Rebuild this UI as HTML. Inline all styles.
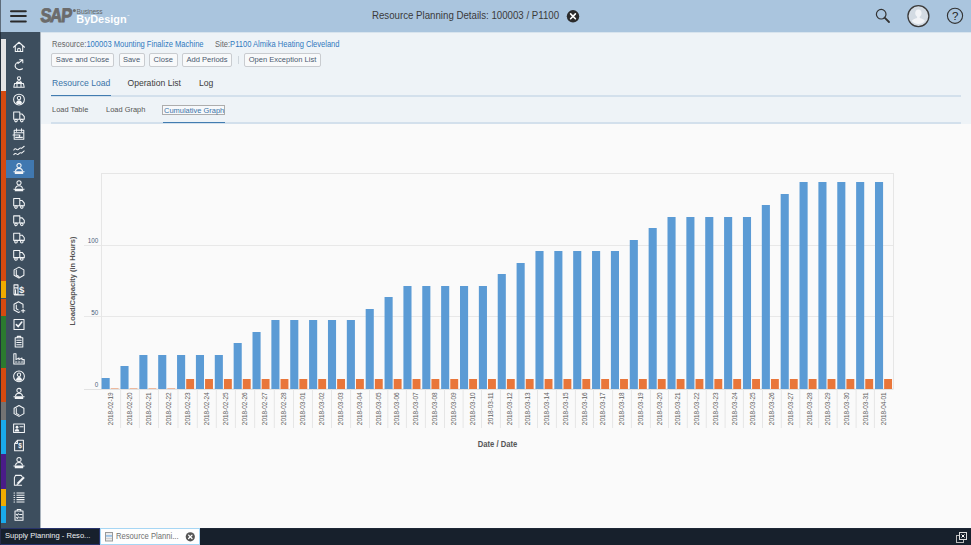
<!DOCTYPE html>
<html><head><meta charset="utf-8">
<style>
*{margin:0;padding:0;box-sizing:border-box}
html,body{width:971px;height:545px;overflow:hidden;background:#fafafa;font-family:"Liberation Sans",sans-serif;position:relative}
.a{position:absolute}
.hdr{left:0;top:0;width:971px;height:32px;background:#aac5de}
.side{left:0;top:32px;width:40px;height:496px;background:#3d4e5e}
.edge{left:0;top:0;width:1px;height:545px;background:#3b4856}
.top{left:40px;top:32px;width:931px;height:92px;background:#eef3f7;border-left:1px solid #a9b3bd}
.main{left:40px;top:124px;width:931px;height:404px;background:#fafafa;border-left:1px solid #a9b3bd}
.task{left:0;top:528px;width:971px;height:17px;background:#17202c;border-top:1px solid #1d2737}
.t{white-space:nowrap;line-height:1}
.btn{position:absolute;top:53px;height:14px;border:1px solid #c9ccd0;border-radius:2px;background:#f8f9fa;color:#4a5a70;font-size:7.55px;line-height:12.7px;text-align:center;white-space:nowrap}
.xl{font-size:7.4px;fill:#606060}
.yl{font-size:8px;fill:#4f627b}
.yt{font-size:8.3px;font-weight:bold;fill:#555}
</style></head><body>
<div class="a hdr"></div>
<div class="a side"></div>
<div class="a top"></div><div class="a" style="left:41px;top:32px;width:930px;height:1px;background:#d8e4ee"></div>
<div class="a main"></div>
<div class="a task"></div>
<div class="a" style="left:0;top:0;width:1px;height:32px;background:#5d6c7b"></div><div class="a" style="left:0;top:32px;width:1px;height:496px;background:#24303c"></div>
<div style="position:absolute;left:1px;top:39px;width:5px;height:52.0px;background:#e4e4e4"></div><div style="position:absolute;left:1px;top:91px;width:5px;height:190.2px;background:#d64a10"></div><div style="position:absolute;left:1px;top:281.2px;width:5px;height:17.3px;background:#f0ab00"></div><div style="position:absolute;left:1px;top:298.5px;width:5px;height:17.3px;background:#d64a10"></div><div style="position:absolute;left:1px;top:315.8px;width:5px;height:51.9px;background:#2b7a2f"></div><div style="position:absolute;left:1px;top:367.7px;width:5px;height:34.6px;background:#d64a10"></div><div style="position:absolute;left:1px;top:402.3px;width:5px;height:17.3px;background:#737373"></div><div style="position:absolute;left:1px;top:419.6px;width:5px;height:34.6px;background:#19aaec"></div><div style="position:absolute;left:1px;top:454.2px;width:5px;height:34.6px;background:#4a1c88"></div><div style="position:absolute;left:1px;top:488.8px;width:5px;height:17.3px;background:#f0ab00"></div><div style="position:absolute;left:1px;top:506.1px;width:5px;height:17.3px;background:#19aaec"></div>
<div class="a" style="left:6px;top:160px;width:28px;height:17.5px;background:#4078b0"></div>
<!-- hamburger -->
<svg class="a" style="left:0;top:0" width="40" height="32"><g stroke="#2a2a2a" stroke-width="2" stroke-linecap="round"><line x1="11" y1="11.2" x2="25.8" y2="11.2"/><line x1="11" y1="16" x2="25.8" y2="16"/><line x1="11" y1="21.5" x2="25.8" y2="21.5"/></g></svg>
<!-- logo -->
<svg class="a" style="left:0;top:0" width="140" height="32">
<text transform="translate(39.9,22.3) scale(0.84,1) skewX(-6)" font-family="Liberation Sans" font-weight="bold" font-size="19.6" fill="#6b6b6b" stroke="#6b6b6b" stroke-width="0.9" letter-spacing="-1.2">SAP</text>
<circle cx="74.4" cy="10.4" r="1.5" fill="#6b6b6b"/>
<text transform="translate(76.6,13.9) scale(0.92,1)" font-family="Liberation Sans" font-size="7.3" fill="#666" letter-spacing="-0.2">Business</text>
<text transform="translate(76.3,22.7) scale(1,1)" font-family="Liberation Sans" font-weight="bold" font-size="10.9" fill="#ffffff" letter-spacing="0">ByDesign</text>
<text x="127" y="17" font-family="Liberation Sans" font-size="2.5" fill="#fff">&#8482;</text>
</svg>
<!-- title -->
<div class="a t" style="left:372.4px;top:11.3px;font-size:10.2px;color:#3a3a3a;transform:scaleX(0.95);transform-origin:0 0">Resource Planning Details: 100003 / P1100</div>
<svg class="a" style="left:565px;top:9px" width="16" height="16"><circle cx="8" cy="7.3" r="6.2" fill="#2b2b2b"/><g stroke="#fff" stroke-width="1.6" stroke-linecap="round"><line x1="5.6" y1="4.9" x2="10.4" y2="9.7"/><line x1="10.4" y1="4.9" x2="5.6" y2="9.7"/></g></svg>
<!-- right icons -->
<svg class="a" style="left:860px;top:0" width="111" height="32">
<circle cx="21.2" cy="14.2" r="4.8" fill="none" stroke="#333" stroke-width="1.2"/>
<line x1="24.6" y1="17.6" x2="29" y2="22" stroke="#333" stroke-width="1.8" stroke-linecap="round"/>
<circle cx="58.4" cy="16.1" r="10.5" fill="#d3dbe3" stroke="#3a3a3a" stroke-width="1.3"/>
<path d="M58.4 9.5c-2 0-3.2 1.6-3.2 3.6 0 1.6.8 3 1.9 3.7v1.3c-2.4.5-4.6 1.6-5.3 2.8 1.7 1.9 4 3 6.6 3s4.9-1.1 6.6-3c-.7-1.2-2.9-2.3-5.3-2.8v-1.3c1.1-.7 1.9-2.1 1.9-3.7 0-2-1.2-3.6-3.2-3.6z" fill="#f2f4f7"/>
<circle cx="95" cy="15.8" r="7.6" fill="none" stroke="#333" stroke-width="1.1"/>
<text x="95.1" y="19.9" text-anchor="middle" font-size="11.5" fill="#222" font-family="Liberation Sans">?</text>
</svg>
<!-- resource row -->
<div class="a t" style="left:52px;top:39.9px;font-size:8.3px;color:#666;transform:scaleX(0.91);transform-origin:0 0">Resource:<span style="color:#3079be">100003 Mounting Finalize Machine</span></div>
<div class="a t" style="left:214.7px;top:39.9px;font-size:8.3px;color:#666;transform:scaleX(0.91);transform-origin:0 0">Site:<span style="color:#3079be">P1100 Almika Heating Cleveland</span></div>
<div class="btn" style="left:51px;width:63px">Save and Close</div>
<div class="btn" style="left:118.5px;width:26px">Save</div>
<div class="btn" style="left:149px;width:28.5px">Close</div>
<div class="btn" style="left:182px;width:50px">Add Periods</div>
<div class="a" style="left:238px;top:55.5px;width:1px;height:8.5px;background:#cfd6dc"></div>
<div class="btn" style="left:244px;width:77px">Open Exception List</div>
<!-- tabs -->
<div class="a t" style="left:52px;top:79px;font-size:8.6px;color:#3a73a8">Resource Load</div>
<div class="a t" style="left:127.5px;top:79px;font-size:8.6px;color:#3d3d3d">Operation List</div>
<div class="a t" style="left:199px;top:79px;font-size:8.6px;color:#3d3d3d">Log</div>
<div class="a" style="left:51px;top:95.3px;width:910px;height:1.3px;background:#d3e0ec"></div>
<div class="a" style="left:51px;top:94.6px;width:59.5px;height:1.6px;background:#427cb0"></div>
<div class="a t" style="left:51.7px;top:106.2px;font-size:8.1px;color:#555;transform:scaleX(0.92);transform-origin:0 0">Load Table</div>
<div class="a t" style="left:106px;top:106.2px;font-size:8.1px;color:#555;transform:scaleX(0.92);transform-origin:0 0">Load Graph</div>
<div class="a" style="left:162px;top:105px;width:63px;height:10px;border:1px solid #adadad;background:#f7f9fb"></div>
<div class="a t" style="left:164px;top:106.7px;font-size:7.47px;color:#3a73a8">Cumulative Graph</div>
<div class="a" style="left:51px;top:122.4px;width:910px;height:1.4px;background:#d3e0ec"></div>
<div class="a" style="left:163px;top:121.8px;width:62px;height:1.4px;background:#427cb0"></div>
<!-- chart -->
<svg class="a" style="left:0;top:0;font-family:'Liberation Sans',sans-serif" width="971" height="545">
<line x1="84" y1="316.50" x2="893" y2="316.50" stroke="#e8e8e8" stroke-width="1"/>
<line x1="84" y1="245.50" x2="893" y2="245.50" stroke="#e8e8e8" stroke-width="1"/>
<rect x="101.5" y="173.5" width="792" height="215.5" fill="none" stroke="#e6e6e6" stroke-width="1"/>
<line x1="84" y1="389.5" x2="893" y2="389.5" stroke="#e2e2e2" stroke-width="1"/>
<line x1="120.60" y1="389" x2="120.60" y2="428" stroke="#e6e6e6" stroke-width="1"/>
<line x1="139.40" y1="389" x2="139.40" y2="428" stroke="#e6e6e6" stroke-width="1"/>
<line x1="158.50" y1="389" x2="158.50" y2="428" stroke="#e6e6e6" stroke-width="1"/>
<line x1="178.00" y1="389" x2="178.00" y2="428" stroke="#e6e6e6" stroke-width="1"/>
<line x1="197.30" y1="389" x2="197.30" y2="428" stroke="#e6e6e6" stroke-width="1"/>
<line x1="216.30" y1="389" x2="216.30" y2="428" stroke="#e6e6e6" stroke-width="1"/>
<line x1="235.40" y1="389" x2="235.40" y2="428" stroke="#e6e6e6" stroke-width="1"/>
<line x1="254.70" y1="389" x2="254.70" y2="428" stroke="#e6e6e6" stroke-width="1"/>
<line x1="274.30" y1="389" x2="274.30" y2="428" stroke="#e6e6e6" stroke-width="1"/>
<line x1="293.50" y1="389" x2="293.50" y2="428" stroke="#e6e6e6" stroke-width="1"/>
<line x1="312.45" y1="389" x2="312.45" y2="428" stroke="#e6e6e6" stroke-width="1"/>
<line x1="331.50" y1="389" x2="331.50" y2="428" stroke="#e6e6e6" stroke-width="1"/>
<line x1="350.60" y1="389" x2="350.60" y2="428" stroke="#e6e6e6" stroke-width="1"/>
<line x1="369.50" y1="389" x2="369.50" y2="428" stroke="#e6e6e6" stroke-width="1"/>
<line x1="387.85" y1="389" x2="387.85" y2="428" stroke="#e6e6e6" stroke-width="1"/>
<line x1="406.40" y1="389" x2="406.40" y2="428" stroke="#e6e6e6" stroke-width="1"/>
<line x1="425.40" y1="389" x2="425.40" y2="428" stroke="#e6e6e6" stroke-width="1"/>
<line x1="444.50" y1="389" x2="444.50" y2="428" stroke="#e6e6e6" stroke-width="1"/>
<line x1="463.10" y1="389" x2="463.10" y2="428" stroke="#e6e6e6" stroke-width="1"/>
<line x1="481.50" y1="389" x2="481.50" y2="428" stroke="#e6e6e6" stroke-width="1"/>
<line x1="500.40" y1="389" x2="500.40" y2="428" stroke="#e6e6e6" stroke-width="1"/>
<line x1="518.90" y1="389" x2="518.90" y2="428" stroke="#e6e6e6" stroke-width="1"/>
<line x1="537.50" y1="389" x2="537.50" y2="428" stroke="#e6e6e6" stroke-width="1"/>
<line x1="556.40" y1="389" x2="556.40" y2="428" stroke="#e6e6e6" stroke-width="1"/>
<line x1="575.40" y1="389" x2="575.40" y2="428" stroke="#e6e6e6" stroke-width="1"/>
<line x1="593.50" y1="389" x2="593.50" y2="428" stroke="#e6e6e6" stroke-width="1"/>
<line x1="612.60" y1="389" x2="612.60" y2="428" stroke="#e6e6e6" stroke-width="1"/>
<line x1="631.40" y1="389" x2="631.40" y2="428" stroke="#e6e6e6" stroke-width="1"/>
<line x1="650.40" y1="389" x2="650.40" y2="428" stroke="#e6e6e6" stroke-width="1"/>
<line x1="668.50" y1="389" x2="668.50" y2="428" stroke="#e6e6e6" stroke-width="1"/>
<line x1="687.30" y1="389" x2="687.30" y2="428" stroke="#e6e6e6" stroke-width="1"/>
<line x1="706.25" y1="389" x2="706.25" y2="428" stroke="#e6e6e6" stroke-width="1"/>
<line x1="725.10" y1="389" x2="725.10" y2="428" stroke="#e6e6e6" stroke-width="1"/>
<line x1="743.40" y1="389" x2="743.40" y2="428" stroke="#e6e6e6" stroke-width="1"/>
<line x1="762.50" y1="389" x2="762.50" y2="428" stroke="#e6e6e6" stroke-width="1"/>
<line x1="781.30" y1="389" x2="781.30" y2="428" stroke="#e6e6e6" stroke-width="1"/>
<line x1="799.80" y1="389" x2="799.80" y2="428" stroke="#e6e6e6" stroke-width="1"/>
<line x1="818.70" y1="389" x2="818.70" y2="428" stroke="#e6e6e6" stroke-width="1"/>
<line x1="837.20" y1="389" x2="837.20" y2="428" stroke="#e6e6e6" stroke-width="1"/>
<line x1="856.10" y1="389" x2="856.10" y2="428" stroke="#e6e6e6" stroke-width="1"/>
<line x1="874.40" y1="389" x2="874.40" y2="428" stroke="#e6e6e6" stroke-width="1"/>
<rect x="101.60" y="378" width="8.1" height="11.00" fill="#5b9bd5"/>
<rect x="110.75" y="388" width="7.8" height="1" fill="#e9763a" opacity="0.45"/>
<rect x="120.46" y="366" width="8.1" height="23.00" fill="#5b9bd5"/>
<rect x="129.61" y="388" width="7.8" height="1" fill="#e9763a" opacity="0.45"/>
<rect x="139.33" y="355" width="8.1" height="34.00" fill="#5b9bd5"/>
<rect x="148.48" y="388" width="7.8" height="1" fill="#e9763a" opacity="0.45"/>
<rect x="158.19" y="355" width="8.1" height="34.00" fill="#5b9bd5"/>
<rect x="167.34" y="388" width="7.8" height="1" fill="#e9763a" opacity="0.45"/>
<rect x="177.05" y="355" width="8.1" height="34.00" fill="#5b9bd5"/>
<rect x="186.20" y="379" width="7.9" height="10.00" fill="#e9763a"/>
<rect x="195.91" y="355" width="8.1" height="34.00" fill="#5b9bd5"/>
<rect x="205.06" y="379" width="7.9" height="10.00" fill="#e9763a"/>
<rect x="214.78" y="355" width="8.1" height="34.00" fill="#5b9bd5"/>
<rect x="223.93" y="379" width="7.9" height="10.00" fill="#e9763a"/>
<rect x="233.64" y="343" width="8.1" height="46.00" fill="#5b9bd5"/>
<rect x="242.79" y="379" width="7.9" height="10.00" fill="#e9763a"/>
<rect x="252.50" y="332" width="8.1" height="57.00" fill="#5b9bd5"/>
<rect x="261.65" y="379" width="7.9" height="10.00" fill="#e9763a"/>
<rect x="271.37" y="320" width="8.1" height="69.00" fill="#5b9bd5"/>
<rect x="280.52" y="379" width="7.9" height="10.00" fill="#e9763a"/>
<rect x="290.23" y="320" width="8.1" height="69.00" fill="#5b9bd5"/>
<rect x="299.38" y="379" width="7.9" height="10.00" fill="#e9763a"/>
<rect x="309.09" y="320" width="8.1" height="69.00" fill="#5b9bd5"/>
<rect x="318.24" y="379" width="7.9" height="10.00" fill="#e9763a"/>
<rect x="327.96" y="320" width="8.1" height="69.00" fill="#5b9bd5"/>
<rect x="337.11" y="379" width="7.9" height="10.00" fill="#e9763a"/>
<rect x="346.82" y="320" width="8.1" height="69.00" fill="#5b9bd5"/>
<rect x="355.97" y="379" width="7.9" height="10.00" fill="#e9763a"/>
<rect x="365.68" y="309" width="8.1" height="80.00" fill="#5b9bd5"/>
<rect x="374.83" y="379" width="7.9" height="10.00" fill="#e9763a"/>
<rect x="384.55" y="297" width="8.1" height="92.00" fill="#5b9bd5"/>
<rect x="393.69" y="379" width="7.9" height="10.00" fill="#e9763a"/>
<rect x="403.41" y="286" width="8.1" height="103.00" fill="#5b9bd5"/>
<rect x="412.56" y="379" width="7.9" height="10.00" fill="#e9763a"/>
<rect x="422.27" y="286" width="8.1" height="103.00" fill="#5b9bd5"/>
<rect x="431.42" y="379" width="7.9" height="10.00" fill="#e9763a"/>
<rect x="441.13" y="286" width="8.1" height="103.00" fill="#5b9bd5"/>
<rect x="450.28" y="379" width="7.9" height="10.00" fill="#e9763a"/>
<rect x="460.00" y="286" width="8.1" height="103.00" fill="#5b9bd5"/>
<rect x="469.15" y="379" width="7.9" height="10.00" fill="#e9763a"/>
<rect x="478.86" y="286" width="8.1" height="103.00" fill="#5b9bd5"/>
<rect x="488.01" y="379" width="7.9" height="10.00" fill="#e9763a"/>
<rect x="497.72" y="274" width="8.1" height="115.00" fill="#5b9bd5"/>
<rect x="506.87" y="379" width="7.9" height="10.00" fill="#e9763a"/>
<rect x="516.59" y="263" width="8.1" height="126.00" fill="#5b9bd5"/>
<rect x="525.74" y="379" width="7.9" height="10.00" fill="#e9763a"/>
<rect x="535.45" y="251" width="8.1" height="138.00" fill="#5b9bd5"/>
<rect x="544.60" y="379" width="7.9" height="10.00" fill="#e9763a"/>
<rect x="554.31" y="251" width="8.1" height="138.00" fill="#5b9bd5"/>
<rect x="563.46" y="379" width="7.9" height="10.00" fill="#e9763a"/>
<rect x="573.18" y="251" width="8.1" height="138.00" fill="#5b9bd5"/>
<rect x="582.33" y="379" width="7.9" height="10.00" fill="#e9763a"/>
<rect x="592.04" y="251" width="8.1" height="138.00" fill="#5b9bd5"/>
<rect x="601.19" y="379" width="7.9" height="10.00" fill="#e9763a"/>
<rect x="610.90" y="251" width="8.1" height="138.00" fill="#5b9bd5"/>
<rect x="620.05" y="379" width="7.9" height="10.00" fill="#e9763a"/>
<rect x="629.76" y="240" width="8.1" height="149.00" fill="#5b9bd5"/>
<rect x="638.91" y="379" width="7.9" height="10.00" fill="#e9763a"/>
<rect x="648.63" y="228" width="8.1" height="161.00" fill="#5b9bd5"/>
<rect x="657.78" y="379" width="7.9" height="10.00" fill="#e9763a"/>
<rect x="667.49" y="217" width="8.1" height="172.00" fill="#5b9bd5"/>
<rect x="676.64" y="379" width="7.9" height="10.00" fill="#e9763a"/>
<rect x="686.35" y="217" width="8.1" height="172.00" fill="#5b9bd5"/>
<rect x="695.50" y="379" width="7.9" height="10.00" fill="#e9763a"/>
<rect x="705.22" y="217" width="8.1" height="172.00" fill="#5b9bd5"/>
<rect x="714.37" y="379" width="7.9" height="10.00" fill="#e9763a"/>
<rect x="724.08" y="217" width="8.1" height="172.00" fill="#5b9bd5"/>
<rect x="733.23" y="379" width="7.9" height="10.00" fill="#e9763a"/>
<rect x="742.94" y="217" width="8.1" height="172.00" fill="#5b9bd5"/>
<rect x="752.09" y="379" width="7.9" height="10.00" fill="#e9763a"/>
<rect x="761.80" y="205" width="8.1" height="184.00" fill="#5b9bd5"/>
<rect x="770.95" y="379" width="7.9" height="10.00" fill="#e9763a"/>
<rect x="780.67" y="194" width="8.1" height="195.00" fill="#5b9bd5"/>
<rect x="789.82" y="379" width="7.9" height="10.00" fill="#e9763a"/>
<rect x="799.53" y="182" width="8.1" height="207.00" fill="#5b9bd5"/>
<rect x="808.68" y="379" width="7.9" height="10.00" fill="#e9763a"/>
<rect x="818.39" y="182" width="8.1" height="207.00" fill="#5b9bd5"/>
<rect x="827.54" y="379" width="7.9" height="10.00" fill="#e9763a"/>
<rect x="837.26" y="182" width="8.1" height="207.00" fill="#5b9bd5"/>
<rect x="846.41" y="379" width="7.9" height="10.00" fill="#e9763a"/>
<rect x="856.12" y="182" width="8.1" height="207.00" fill="#5b9bd5"/>
<rect x="865.27" y="379" width="7.9" height="10.00" fill="#e9763a"/>
<rect x="874.98" y="182" width="8.1" height="207.00" fill="#5b9bd5"/>
<rect x="884.13" y="379" width="7.9" height="10.00" fill="#e9763a"/>
<text transform="translate(113.45,392.3) rotate(-90) scale(0.87,1)" text-anchor="end" class="xl">2018-02-19</text>
<text transform="translate(132.25,392.3) rotate(-90) scale(0.87,1)" text-anchor="end" class="xl">2018-02-20</text>
<text transform="translate(151.20,392.3) rotate(-90) scale(0.87,1)" text-anchor="end" class="xl">2018-02-21</text>
<text transform="translate(170.50,392.3) rotate(-90) scale(0.87,1)" text-anchor="end" class="xl">2018-02-22</text>
<text transform="translate(189.90,392.3) rotate(-90) scale(0.87,1)" text-anchor="end" class="xl">2018-02-23</text>
<text transform="translate(209.05,392.3) rotate(-90) scale(0.87,1)" text-anchor="end" class="xl">2018-02-24</text>
<text transform="translate(228.10,392.3) rotate(-90) scale(0.87,1)" text-anchor="end" class="xl">2018-02-25</text>
<text transform="translate(247.30,392.3) rotate(-90) scale(0.87,1)" text-anchor="end" class="xl">2018-02-26</text>
<text transform="translate(266.75,392.3) rotate(-90) scale(0.87,1)" text-anchor="end" class="xl">2018-02-27</text>
<text transform="translate(286.15,392.3) rotate(-90) scale(0.87,1)" text-anchor="end" class="xl">2018-02-28</text>
<text transform="translate(305.23,392.3) rotate(-90) scale(0.87,1)" text-anchor="end" class="xl">2018-03-01</text>
<text transform="translate(324.23,392.3) rotate(-90) scale(0.87,1)" text-anchor="end" class="xl">2018-03-02</text>
<text transform="translate(343.30,392.3) rotate(-90) scale(0.87,1)" text-anchor="end" class="xl">2018-03-03</text>
<text transform="translate(362.30,392.3) rotate(-90) scale(0.87,1)" text-anchor="end" class="xl">2018-03-04</text>
<text transform="translate(380.93,392.3) rotate(-90) scale(0.87,1)" text-anchor="end" class="xl">2018-03-05</text>
<text transform="translate(399.38,392.3) rotate(-90) scale(0.87,1)" text-anchor="end" class="xl">2018-03-06</text>
<text transform="translate(418.15,392.3) rotate(-90) scale(0.87,1)" text-anchor="end" class="xl">2018-03-07</text>
<text transform="translate(437.20,392.3) rotate(-90) scale(0.87,1)" text-anchor="end" class="xl">2018-03-08</text>
<text transform="translate(456.05,392.3) rotate(-90) scale(0.87,1)" text-anchor="end" class="xl">2018-03-09</text>
<text transform="translate(474.55,392.3) rotate(-90) scale(0.87,1)" text-anchor="end" class="xl">2018-03-10</text>
<text transform="translate(493.20,392.3) rotate(-90) scale(0.87,1)" text-anchor="end" class="xl">2018-03-11</text>
<text transform="translate(511.90,392.3) rotate(-90) scale(0.87,1)" text-anchor="end" class="xl">2018-03-12</text>
<text transform="translate(530.45,392.3) rotate(-90) scale(0.87,1)" text-anchor="end" class="xl">2018-03-13</text>
<text transform="translate(549.20,392.3) rotate(-90) scale(0.87,1)" text-anchor="end" class="xl">2018-03-14</text>
<text transform="translate(568.15,392.3) rotate(-90) scale(0.87,1)" text-anchor="end" class="xl">2018-03-15</text>
<text transform="translate(586.70,392.3) rotate(-90) scale(0.87,1)" text-anchor="end" class="xl">2018-03-16</text>
<text transform="translate(605.30,392.3) rotate(-90) scale(0.87,1)" text-anchor="end" class="xl">2018-03-17</text>
<text transform="translate(624.25,392.3) rotate(-90) scale(0.87,1)" text-anchor="end" class="xl">2018-03-18</text>
<text transform="translate(643.15,392.3) rotate(-90) scale(0.87,1)" text-anchor="end" class="xl">2018-03-19</text>
<text transform="translate(661.70,392.3) rotate(-90) scale(0.87,1)" text-anchor="end" class="xl">2018-03-20</text>
<text transform="translate(680.15,392.3) rotate(-90) scale(0.87,1)" text-anchor="end" class="xl">2018-03-21</text>
<text transform="translate(699.02,392.3) rotate(-90) scale(0.87,1)" text-anchor="end" class="xl">2018-03-22</text>
<text transform="translate(717.92,392.3) rotate(-90) scale(0.87,1)" text-anchor="end" class="xl">2018-03-23</text>
<text transform="translate(736.50,392.3) rotate(-90) scale(0.87,1)" text-anchor="end" class="xl">2018-03-24</text>
<text transform="translate(755.20,392.3) rotate(-90) scale(0.87,1)" text-anchor="end" class="xl">2018-03-25</text>
<text transform="translate(774.15,392.3) rotate(-90) scale(0.87,1)" text-anchor="end" class="xl">2018-03-26</text>
<text transform="translate(792.80,392.3) rotate(-90) scale(0.87,1)" text-anchor="end" class="xl">2018-03-27</text>
<text transform="translate(811.50,392.3) rotate(-90) scale(0.87,1)" text-anchor="end" class="xl">2018-03-28</text>
<text transform="translate(830.20,392.3) rotate(-90) scale(0.87,1)" text-anchor="end" class="xl">2018-03-29</text>
<text transform="translate(848.90,392.3) rotate(-90) scale(0.87,1)" text-anchor="end" class="xl">2018-03-30</text>
<text transform="translate(867.50,392.3) rotate(-90) scale(0.87,1)" text-anchor="end" class="xl">2018-03-31</text>
<text transform="translate(885.95,392.3) rotate(-90) scale(0.87,1)" text-anchor="end" class="xl">2018-04-01</text>
<text transform="translate(98.3,387.00) scale(0.79,1)" text-anchor="end" class="yl">0</text>
<text transform="translate(98.3,315.12) scale(0.79,1)" text-anchor="end" class="yl">50</text>
<text transform="translate(98.3,243.25) scale(0.79,1)" text-anchor="end" class="yl">100</text>
<text transform="translate(75.0,281) rotate(-90)" text-anchor="middle" class="yt" style="font-size:7.5px">Load/Capacity (in Hours)</text>
<text transform="translate(497.5,447.2) scale(0.92,1)" text-anchor="middle" class="yt">Date / Date</text>
</svg>
<!-- sidebar icons -->
<svg class="a" style="left:0;top:0" width="40" height="545">
<g transform="translate(13,41.65)"><path fill="none" stroke="#f2f4f6" stroke-width="1.05" stroke-linejoin="round" stroke-linecap="round" d="M0.5 5.6 L6 0.6 L11.5 5.6 M2.3 4.3 V9.8 H9.7 V4.3 M4.7 9.8 V7.2 Q6 5.8 7.3 7.2 V9.8"/></g>
<g transform="translate(13,58.95)"><path fill="none" stroke="#f2f4f6" stroke-width="1.05" stroke-linejoin="round" stroke-linecap="round" d="M9.5 9.8 C6 12 1.6 9.6 2.2 6.2 C2.6 4.4 3.8 3.5 5.2 3 M4.8 4.6 L9.8 0.8 M6.6 0.8 H9.8 V3.8"/></g>
<g transform="translate(13,76.25)"><circle fill="none" stroke="#f2f4f6" stroke-width="1.05" stroke-linejoin="round" stroke-linecap="round" cx="6" cy="2" r="1.6"/><path fill="none" stroke="#f2f4f6" stroke-width="1.05" stroke-linejoin="round" stroke-linecap="round" d="M3.4 6.2 Q6 2.8 8.6 6.2 Z"/><path fill="none" stroke="#f2f4f6" stroke-width="1.05" stroke-linejoin="round" stroke-linecap="round" d="M0.8 11 L1.6 7.2 H10.4 L11.2 11 Z M4 7.4 V10.8 M8 7.4 V10.8"/></g>
<g transform="translate(13,93.55)"><circle fill="none" stroke="#f2f4f6" stroke-width="1.05" stroke-linejoin="round" stroke-linecap="round" cx="6" cy="6" r="5.4"/><circle fill="none" stroke="#f2f4f6" stroke-width="1.05" stroke-linejoin="round" stroke-linecap="round" cx="6" cy="4.4" r="1.7"/><path fill="#f2f4f6" d="M2.9 9.6 Q3.6 6.6 6 6.6 Q8.4 6.6 9.1 9.6 Q6 11.4 2.9 9.6Z"/></g>
<g transform="translate(13,110.85)"><path fill="none" stroke="#f2f4f6" stroke-width="1.05" stroke-linejoin="round" stroke-linecap="round" d="M0.7 1.2 H6.8 V8.4 H0.7 Z M6.8 3.2 H9.2 L11.3 5.8 V8.4 H6.8"/><circle fill="none" stroke="#f2f4f6" stroke-width="1.05" stroke-linejoin="round" stroke-linecap="round" cx="3" cy="9.7" r="1.3"/><circle fill="none" stroke="#f2f4f6" stroke-width="1.05" stroke-linejoin="round" stroke-linecap="round" cx="8.8" cy="9.7" r="1.3"/></g>
<g transform="translate(13,128.15)"><path fill="none" stroke="#f2f4f6" stroke-width="1.05" stroke-linejoin="round" stroke-linecap="round" d="M1.2 2 H10.8 V11 H1.2 Z M1.2 4.6 H10.8 M3.5 0.6 V3 M8.5 0.6 V3 M0 6.8 H7 L6.3 8.4 M2.6 9.2 H9.4"/></g>
<g transform="translate(13,145.45)"><path fill="none" stroke="#f2f4f6" stroke-width="1.05" stroke-linejoin="round" stroke-linecap="round" d="M0.8 4.5 Q2 2.8 3.2 3.6 Q4.6 5 6 3.4 Q7.4 2 8.6 3 L11.2 0.8 M0.8 9.2 Q2 7.5 3.2 8.3 Q4.6 9.7 6 8.1 Q7.4 6.7 8.6 7.7 L11.2 5.5"/></g>
<g transform="translate(13,162.75)"><circle fill="none" stroke="#f2f4f6" stroke-width="1.05" stroke-linejoin="round" stroke-linecap="round" cx="6" cy="2.8" r="2.1"/><path fill="none" stroke="#f2f4f6" stroke-width="1.05" stroke-linejoin="round" stroke-linecap="round" d="M2.5 8.2 Q3 5.6 6 5.6 Q9 5.6 9.5 8.2"/><path fill="#f2f4f6" d="M0.5 8.6 H11.5 V9.6 L10.2 9.6 V11.3 H1.8 V9.6 H0.5Z"/></g>
<g transform="translate(13,180.05)"><circle fill="none" stroke="#f2f4f6" stroke-width="1.05" stroke-linejoin="round" stroke-linecap="round" cx="6" cy="2.8" r="2.1"/><path fill="none" stroke="#f2f4f6" stroke-width="1.05" stroke-linejoin="round" stroke-linecap="round" d="M2.5 8.2 Q3 5.6 6 5.6 Q9 5.6 9.5 8.2"/><path fill="#f2f4f6" d="M0.5 8.6 H11.5 V9.6 L10.2 9.6 V11.3 H1.8 V9.6 H0.5Z"/></g>
<g transform="translate(13,197.35)"><path fill="none" stroke="#f2f4f6" stroke-width="1.05" stroke-linejoin="round" stroke-linecap="round" d="M0.7 1.2 H6.8 V8.4 H0.7 Z M6.8 3.2 H9.2 L11.3 5.8 V8.4 H6.8"/><circle fill="none" stroke="#f2f4f6" stroke-width="1.05" stroke-linejoin="round" stroke-linecap="round" cx="3" cy="9.7" r="1.3"/><circle fill="none" stroke="#f2f4f6" stroke-width="1.05" stroke-linejoin="round" stroke-linecap="round" cx="8.8" cy="9.7" r="1.3"/></g>
<g transform="translate(13,214.65)"><path fill="none" stroke="#f2f4f6" stroke-width="1.05" stroke-linejoin="round" stroke-linecap="round" d="M0.7 1.2 H6.8 V8.4 H0.7 Z M6.8 3.2 H9.2 L11.3 5.8 V8.4 H6.8"/><circle fill="none" stroke="#f2f4f6" stroke-width="1.05" stroke-linejoin="round" stroke-linecap="round" cx="3" cy="9.7" r="1.3"/><circle fill="none" stroke="#f2f4f6" stroke-width="1.05" stroke-linejoin="round" stroke-linecap="round" cx="8.8" cy="9.7" r="1.3"/></g>
<g transform="translate(13,231.95)"><path fill="none" stroke="#f2f4f6" stroke-width="1.05" stroke-linejoin="round" stroke-linecap="round" d="M0.7 1.2 H6.8 V8.4 H0.7 Z M6.8 3.2 H9.2 L11.3 5.8 V8.4 H6.8"/><circle fill="none" stroke="#f2f4f6" stroke-width="1.05" stroke-linejoin="round" stroke-linecap="round" cx="3" cy="9.7" r="1.3"/><circle fill="none" stroke="#f2f4f6" stroke-width="1.05" stroke-linejoin="round" stroke-linecap="round" cx="8.8" cy="9.7" r="1.3"/></g>
<g transform="translate(13,249.25)"><path fill="none" stroke="#f2f4f6" stroke-width="1.05" stroke-linejoin="round" stroke-linecap="round" d="M0.7 1.2 H6.8 V8.4 H0.7 Z M6.8 3.2 H9.2 L11.3 5.8 V8.4 H6.8"/><circle fill="none" stroke="#f2f4f6" stroke-width="1.05" stroke-linejoin="round" stroke-linecap="round" cx="3" cy="9.7" r="1.3"/><circle fill="none" stroke="#f2f4f6" stroke-width="1.05" stroke-linejoin="round" stroke-linecap="round" cx="8.8" cy="9.7" r="1.3"/></g>
<g transform="translate(13,266.55)"><path fill="none" stroke="#f2f4f6" stroke-width="1.05" stroke-linejoin="round" stroke-linecap="round" d="M6 0.6 L10.9 3.3 V8.7 L6 11.4 L1.1 8.7 V3.3 Z M3.3 3.6 V8.4 L6 9.9"/></g>
<g transform="translate(13,283.85)"><path fill="none" stroke="#f2f4f6" stroke-width="1.05" stroke-linejoin="round" stroke-linecap="round" d="M1 1 H5 V10.5 H1 Z M1 4 H5 M2.5 6 V10.5 M1.5 11 H11"/><text x="8.6" y="9" text-anchor="middle" font-size="9.5" font-weight="bold" fill="#f2f4f6" font-family="Liberation Sans">$</text></g>
<g transform="translate(13,301.15)"><path fill="none" stroke="#f2f4f6" stroke-width="1.05" stroke-linejoin="round" stroke-linecap="round" d="M10 6.4 V3.1 L5.5 0.6 L1 3.1 V8.9 L5.5 11.4 L6.8 10.7 M3.3 3.9 V7.6 L5.2 8.7 M8.4 9.6 H11.8 M10.1 7.9 V11.3"/></g>
<g transform="translate(13,318.45)"><path fill="none" stroke="#f2f4f6" stroke-width="1.05" stroke-linejoin="round" stroke-linecap="round" d="M1 1 H11 V11 H1 Z"/><path fill="none" stroke="#f2f4f6" stroke-width="1.6" stroke-linecap="round" d="M3.4 6.2 L5.2 8 L8.8 3.6"/></g>
<g transform="translate(13,335.75)"><path fill="none" stroke="#f2f4f6" stroke-width="1.05" stroke-linejoin="round" stroke-linecap="round" d="M2.2 2 H9.8 V11.2 H2.2 Z M4.3 1.6 V0.6 H7.7 V1.6 M3.8 4.5 H8.2 M3.8 6.7 H8.2 M3.8 8.9 H8.2"/></g>
<g transform="translate(13,353.05)"><path fill="none" stroke="#f2f4f6" stroke-width="1.05" stroke-linejoin="round" stroke-linecap="round" d="M0.8 11 V0.8 H3 V6.6 L6 5 V6.6 L9 5 V6.6 H11.2 V11 Z"/><path fill="none" stroke="#f2f4f6" stroke-width="1.05" stroke-linejoin="round" stroke-linecap="round" d="M2.5 9 H4 M5.5 9 H7 M8.5 9 H10"/></g>
<g transform="translate(13,370.35)"><circle fill="none" stroke="#f2f4f6" stroke-width="1.05" stroke-linejoin="round" stroke-linecap="round" cx="6" cy="6" r="5.4"/><circle fill="none" stroke="#f2f4f6" stroke-width="1.05" stroke-linejoin="round" stroke-linecap="round" cx="6" cy="4.4" r="1.7"/><path fill="#f2f4f6" d="M2.9 9.6 Q3.6 6.6 6 6.6 Q8.4 6.6 9.1 9.6 Q6 11.4 2.9 9.6Z"/></g>
<g transform="translate(13,387.65)"><circle fill="none" stroke="#f2f4f6" stroke-width="1.05" stroke-linejoin="round" stroke-linecap="round" cx="6" cy="2.8" r="2.1"/><path fill="none" stroke="#f2f4f6" stroke-width="1.05" stroke-linejoin="round" stroke-linecap="round" d="M2.5 8.2 Q3 5.6 6 5.6 Q9 5.6 9.5 8.2"/><path fill="#f2f4f6" d="M0.5 8.6 H11.5 V9.6 L10.2 9.6 V11.3 H1.8 V9.6 H0.5Z"/></g>
<g transform="translate(13,404.95)"><path fill="none" stroke="#f2f4f6" stroke-width="1.05" stroke-linejoin="round" stroke-linecap="round" d="M6 0.6 L10.9 3.3 V8.7 L6 11.4 L1.1 8.7 V3.3 Z M3.3 3.6 V8.4 L6 9.9"/></g>
<g transform="translate(13,422.25)"><path fill="none" stroke="#f2f4f6" stroke-width="1.05" stroke-linejoin="round" stroke-linecap="round" d="M0.6 1.8 H11.4 V10.2 H0.6 Z M7 4.5 H10"/><circle fill="#f2f4f6" cx="4" cy="5" r="1.4"/><path fill="#f2f4f6" d="M1.6 9.2 Q1.8 6.8 4 6.8 Q6.2 6.8 6.4 9.2Z"/></g>
<g transform="translate(13,439.55)"><path fill="none" stroke="#f2f4f6" stroke-width="1.05" stroke-linejoin="round" stroke-linecap="round" d="M1.6 4 L4.4 0.8 H10.4 V11.2 H1.6 Z M4.4 0.8 V4 H1.6"/><text x="7" y="8.2" text-anchor="middle" font-size="6.5" font-weight="bold" fill="#f2f4f6" font-family="Liberation Sans">$</text></g>
<g transform="translate(13,456.85)"><circle fill="none" stroke="#f2f4f6" stroke-width="1.05" stroke-linejoin="round" stroke-linecap="round" cx="6" cy="2.8" r="2.1"/><path fill="none" stroke="#f2f4f6" stroke-width="1.05" stroke-linejoin="round" stroke-linecap="round" d="M2.5 8.2 Q3 5.6 6 5.6 Q9 5.6 9.5 8.2"/><path fill="#f2f4f6" d="M0.5 8.6 H11.5 V9.6 L10.2 9.6 V11.3 H1.8 V9.6 H0.5Z"/></g>
<g transform="translate(13,474.15)"><path fill="none" stroke="#f2f4f6" stroke-width="1.05" stroke-linejoin="round" stroke-linecap="round" d="M2.5 1.2 H8.2 L9.2 2.6 M8.6 11 H1.4 V3.6 L2.5 1.2"/><path fill="none" stroke="#f2f4f6" stroke-width="2.1" d="M4.6 9.6 L11 3.2"/><path fill="#f2f4f6" d="M3.6 11 L3.9 9 L5.4 10.4Z"/></g>
<g transform="translate(13,491.45)"><path fill="none" stroke="#f2f4f6" stroke-width="1.05" stroke-linejoin="round" stroke-linecap="round" d="M1 1.5 H1.6 M1 3.8 H1.6 M1 6 H1.6 M1 8.2 H1.6 M1 10.5 H1.6"/><path fill="none" stroke="#f2f4f6" stroke-width="1.15" d="M3.5 1.5 H11.5 M3.5 3.8 H11.5 M3.5 6 H11.5 M3.5 8.2 H11.5 M3.5 10.5 H11.5"/></g>
<g transform="translate(13,508.75)"><path fill="none" stroke="#f2f4f6" stroke-width="1.05" stroke-linejoin="round" stroke-linecap="round" d="M2 2.2 H10 V11.4 H2 Z M4.2 2 V0.8 H7.8 V2 M3.4 5.6 L4.4 6.4 L5.4 5 M6.6 5.8 H8.8 M3.4 8.8 L4.4 9.6 L5.4 8.2 M6.6 9 H8.8"/></g>
</svg>
<!-- taskbar -->
<div class="a" style="left:1px;top:528px;width:99px;height:17px;border:1px solid #27336a;border-left:none;background:#17202c"></div>
<div class="a" style="left:0;top:528px;width:1px;height:17px;background:#262b4a"></div>
<div class="a t" style="left:5.4px;top:532.4px;font-size:8.1px;color:#eef0f2;transform:scaleX(0.935);transform-origin:0 0">Supply Planning - Reso...</div>
<div class="a" style="left:100px;top:528px;width:100px;height:17px;background:#fefefe;border:1px solid #a6d6f4"></div>
<svg class="a" style="left:104px;top:531px" width="10" height="11"><rect x="1.5" y="1.5" width="7" height="8.5" fill="#ececec" stroke="#999" stroke-width="1"/><rect x="2" y="4" width="6" height="1.8" fill="#9cc3e6"/><line x1="2" y1="7.5" x2="8" y2="7.5" stroke="#d0d0d0" stroke-width="1"/></svg>
<div class="a t" style="left:116px;top:533.3px;font-size:8.2px;color:#707070;transform:scaleX(0.935);transform-origin:0 0">Resource Planni...</div>
<svg class="a" style="left:184px;top:531px" width="13" height="12"><circle cx="6.3" cy="5.8" r="4.6" fill="#555"/><g stroke="#fff" stroke-width="1.3" stroke-linecap="round"><line x1="4.6" y1="4.1" x2="8" y2="7.5"/><line x1="8" y1="4.1" x2="4.6" y2="7.5"/></g></svg>
<svg class="a" style="left:955px;top:531px" width="14" height="13"><rect x="1.5" y="4.5" width="7" height="7" fill="none" stroke="#bbb" stroke-width="1"/><rect x="4.5" y="1.5" width="7" height="7" fill="#17202c" stroke="#ddd" stroke-width="1"/><g stroke="#fff" stroke-width="1"><line x1="6.5" y1="3.5" x2="9.5" y2="6.5"/><line x1="9.5" y1="3.5" x2="6.5" y2="6.5"/></g></svg>
</body></html>
